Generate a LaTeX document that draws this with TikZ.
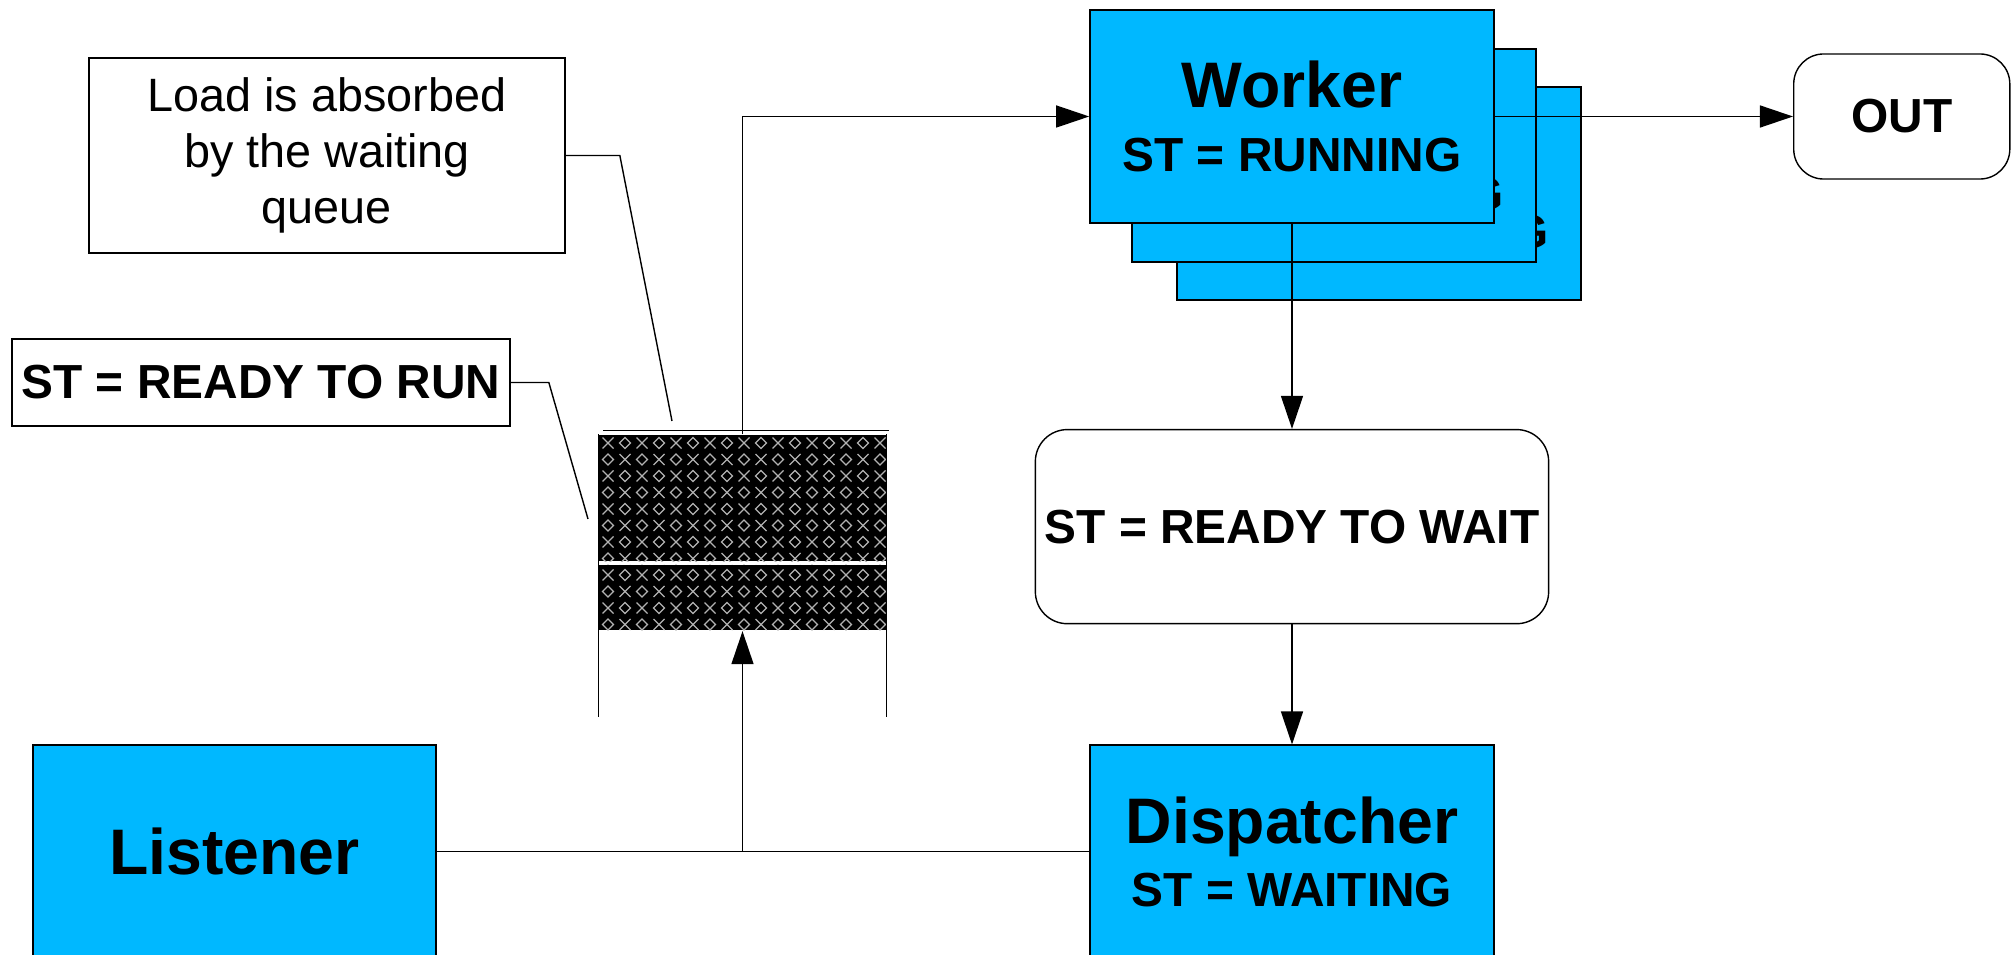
\documentclass[tikz,border=0pt]{standalone}
\usepackage{fontspec}
\setmainfont{Liberation Sans}
\usetikzlibrary{arrows.meta, positioning}

\definecolor{procblue}{RGB}{0,184,255}
\newcommand{\proctitle}[1]{{\fontsize{18.3}{22}\selectfont #1}}

\begin{document}
\begin{tikzpicture}[
  x=0.01cm,
  y=-0.01cm,
  proc/.style={
    rectangle,
    draw,
    fill=procblue,
    minimum width=4.04cm,
    minimum height=2.13cm,
    inner sep=0pt,
    align=center,
    font=\bfseries\fontsize{13.6}{18}\selectfont
  },
  stbox/.style={
    rectangle,
    draw,
    fill=white,
    rounded corners=0.32cm,
    inner sep=0pt,
    align=center,
    font=\bfseries\fontsize{13.6}{18}\selectfont
  },
  note/.style={
    rectangle,
    draw,
    inner sep=0pt,
    align=center,
    font=\fontsize{13.3}{15.9}\selectfont
  },
  slot/.style={
    rectangle,
    fill=black,
    minimum width=2.87cm,
    inner sep=0pt
  },
  glyph/.style={draw=gray!60!white, line width=0.35pt},
  wire/.style={line width=0.4pt},
  arrow/.style={-{Triangle[length=0.33cm, width=0.22cm]}, line width=0.4pt}
]

\useasboundingbox (0,0) rectangle (2014,955);

% ============================================================
% Worker pool (stacked copies)
% ============================================================

\node[proc] (worker3) at (1379,193.5) {\proctitle{Worker}\\ST = RUNNING};
\node[proc] (worker2) at (1334,155.5) {\proctitle{Worker}\\ST = RUNNING};
\node[proc] (worker) at (1292,116.5) {\proctitle{Worker}\\ST = RUNNING};

\node[stbox, minimum width=2.16cm, minimum height=1.25cm, rounded corners=0.3cm,
      right=2.98cm of worker] (out) {OUT};

% ============================================================
% Right column: waiting state and dispatcher
% ============================================================

\node[stbox, minimum width=5.13cm, minimum height=1.94cm, below=2.05cm of worker] (wait) {ST = READY TO WAIT};

\node[proc, below=1.2cm of wait] (dispatcher) {\proctitle{Dispatcher}\\ST = WAITING};

\node[proc, minimum width=4.03cm, left=6.52cm of dispatcher] (listener) {\proctitle{Listener}};

% ============================================================
% Waiting queue
% ============================================================

\node[slot, minimum height=1.26cm] (qhigh) at (742.5,498) {};
\node[slot, minimum height=0.65cm, below=0.03cm of qhigh] (qlow) {};

% Pattern on the slots
\foreach \s in {qhigh,qlow}{
  \begin{scope}
    \clip (\s.north west) rectangle (\s.south east);
    \foreach \i in {0,...,16}{
      \foreach \j in {0,...,11}{
        \pgfmathtruncatemacro\odd{mod(\i+\j,2)}
        \ifnum\odd=0
          \draw[glyph, shift={(608+17*\i,443+16.5*\j)}] (-5.5,-5.5) -- (5.5,5.5) (-5.5,5.5) -- (5.5,-5.5);
        \else
          \draw[glyph, shift={(608+17*\i,443+16.5*\j)}] (-5.5,0) -- (0,5.5) -- (5.5,0) -- (0,-5.5) -- cycle;
        \fi
      }
    }
  \end{scope}
}

% Queue walls
\draw[wire] (qhigh.north west) -- ++(0,283);
\draw[wire] (qhigh.north east) -- ++(0,283);
\draw[wire] ([shift={(5,-4)}]qhigh.north west) -- ([shift={(2,-4)}]qhigh.north east);

% ============================================================
% Callouts
% ============================================================

\node[note, minimum width=4.76cm, minimum height=1.95cm] (absorb) at (327,155.5) {Load is absorbed\\by the waiting\\queue};
\node[note, font=\bfseries\fontsize{13.6}{18}\selectfont, minimum width=4.98cm, minimum height=0.87cm] (ready) at (261,382.5) {ST = READY TO RUN};

\coordinate (absorbtip) at (672,421);
\coordinate (readytip) at (588,519);
\draw[wire] (absorb.east) -- ++(54,0) -- (absorbtip);
\draw[wire] (ready.east) -- ++(38,0) -- (readytip);

% ============================================================
% Connectors
% ============================================================

\draw[arrow] (qhigh.north) |- (worker.west);
\draw[arrow] (worker.east) -- (out.west);
\draw[arrow] (worker.south) -- (wait.north);
\draw[arrow] (wait.south) -- (dispatcher.north);
\draw[arrow] (listener.east) -| (qlow.south);

\coordinate (join) at (qlow.south |- listener.east);
\draw[wire] (dispatcher.west) -- (join);

\end{tikzpicture}
\end{document}
